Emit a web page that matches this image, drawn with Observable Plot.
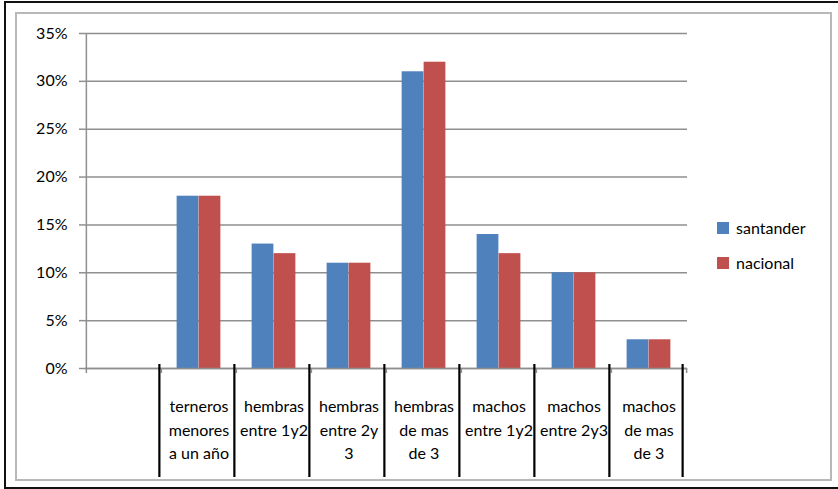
<!DOCTYPE html>
<html>
<head>
<meta charset="utf-8">
<script src="https://cdn.jsdelivr.net/npm/d3@7"></script>
<script src="https://cdn.jsdelivr.net/npm/@observablehq/plot@0.6"></script>
<style>
  body { margin: 0; background: #fff; }
  #wrap { position: relative; width: 838px; height: 489px; overflow: hidden; font-family: Lato, "Noto Sans", sans-serif; }
  #chart { position: absolute; left: 0; top: 0; }
  .outer { position: absolute; left: 4px; top: 1px; width: 900px; height: 484px; border: 2px solid #111; }
  .inner { position: absolute; left: 15px; top: 12px; width: 813px; height: 465px; border: 2px solid #b8b8b8; }
  .legend { position: absolute; left: 717px; top: 210px; font-size: 16px; color: #000; }
  .legend .item { display: flex; align-items: center; height: 35px; }
  .legend .sw { width: 12px; height: 12px; margin-right: 7px; }
</style>
</head>
<body>
<div id="wrap">
  <div id="chart"></div>
  <div class="outer"></div>
  <div class="inner"></div>
  <div class="legend" id="legend"></div>
</div>
<script>
// Cattle inventory share by age/sex group: Santander vs. national
const categories = [
  "",
  "terneros\nmenores\na un año",
  "hembras\nentre 1y2",
  "hembras\nentre 2y\n3",
  "hembras\nde mas\nde 3",
  "machos\nentre 1y2",
  "machos\nentre 2y3",
  "machos\nde mas\nde 3"
];
const santander = [null, 0.18, 0.13, 0.11, 0.31, 0.14, 0.10, 0.03];
const nacional  = [null, 0.18, 0.12, 0.11, 0.32, 0.12, 0.10, 0.03];
const series = ["santander", "nacional"];
const colors = ["#4F81BD", "#C0504D"];
const yTicks = [0, 0.05, 0.10, 0.15, 0.20, 0.25, 0.30, 0.35];

const rows = [];
categories.forEach((c, i) => {
  if (santander[i] != null) rows.push({category: c, serie: "santander", value: santander[i]});
  if (nacional[i] != null) rows.push({category: c, serie: "nacional", value: nacional[i]});
});

const W = 838, H = 489;
const mL = 85, mR = 151, mT = 33, mB = 121;
const bw = (W - mL - mR) / categories.length;   // band width per category
const plotH = H - mT - mB;
const barW = 22;
const gray = "#8f8f8f";
const last = categories[categories.length - 1];

const chart = Plot.plot({
  width: W,
  height: H,
  marginLeft: mL,
  marginRight: mR,
  marginTop: mT,
  marginBottom: mB,
  style: {background: "transparent", fontFamily: "Lato, 'Noto Sans', sans-serif", fontSize: "16px", color: "black", overflow: "visible"},
  x: {domain: categories, padding: 0, label: null},
  y: {domain: [0, 0.35], label: null},
  marks: [
    Plot.gridY(yTicks, {stroke: gray, strokeOpacity: 1, strokeWidth: 1.5}),
    Plot.axisY(yTicks, {tickFormat: d3.format(".0%"), tickSize: 6, tickPadding: 12, stroke: gray, strokeWidth: 1.5, fill: "black", fontSize: 16, label: null}),
    Plot.barY(rows.filter(d => d.serie === "santander"), {
      x: "category", y: "value", fill: colors[0],
      insetLeft: bw / 2 - barW, insetRight: bw / 2
    }),
    Plot.barY(rows.filter(d => d.serie === "nacional"), {
      x: "category", y: "value", fill: colors[1],
      insetLeft: bw / 2, insetRight: bw / 2 - barW
    }),
    // axis lines
    Plot.ruleY([0], {stroke: gray, strokeWidth: 1.5}),
    Plot.ruleX([categories[0]], {dx: -bw / 2, stroke: gray, strokeWidth: 1.5, insetBottom: -5}),
    // small category ticks under the baseline
    Plot.ruleX(categories.slice(1), {dx: -bw / 2, stroke: gray, strokeWidth: 1.5, insetTop: plotH, insetBottom: -5}),
    Plot.ruleX([last], {dx: bw / 2, stroke: gray, strokeWidth: 1.5, insetTop: plotH, insetBottom: -5}),
    // black separators between category labels
    Plot.ruleX(categories.slice(1), {dx: -bw / 2 - 2, stroke: "#000", strokeWidth: 2.2, insetTop: plotH - 4, insetBottom: -109}),
    Plot.ruleX([last], {dx: bw / 2 - 4, stroke: "#000", strokeWidth: 2.2, insetTop: plotH - 4, insetBottom: -109}),
    Plot.axisX({tickSize: 0, tickPadding: 27, fontSize: 16, lineHeight: 1.47, fill: "black", label: null})
  ]
});
document.getElementById("chart").appendChild(chart);

// legend
const legend = document.getElementById("legend");
series.forEach((s, i) => {
  const item = document.createElement("div");
  item.className = "item";
  const sw = document.createElement("span");
  sw.className = "sw";
  sw.style.background = colors[i];
  const label = document.createElement("span");
  label.textContent = s;
  item.appendChild(sw);
  item.appendChild(label);
  legend.appendChild(item);
});
</script>
</body>
</html>
